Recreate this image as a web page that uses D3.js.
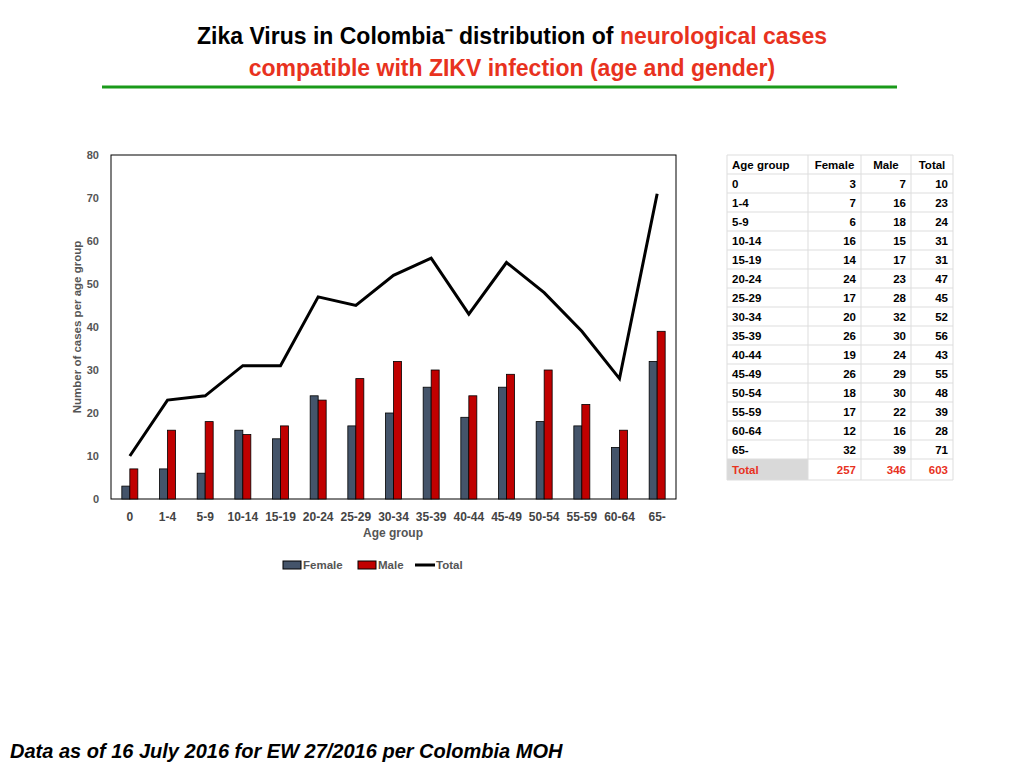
<!DOCTYPE html>
<html><head><meta charset="utf-8">
<script src="https://cdn.jsdelivr.net/npm/d3@7"></script>
<style>body{margin:0;background:#fff;font-family:"Liberation Sans",Arial,sans-serif}</style>
</head><body><svg id="c" width="1024" height="768"></svg>
<script>
var ageGroups = ["0","1-4","5-9","10-14","15-19","20-24","25-29","30-34","35-39","40-44","45-49","50-54","55-59","60-64","65-"];
var female = [3,7,6,16,14,24,17,20,26,19,26,18,17,12,32];
var male = [7,16,18,15,17,23,28,32,30,24,29,30,22,16,39];
var total = [10,23,24,31,31,47,45,52,56,43,55,48,39,28,71];
var yTicks = [0,10,20,30,40,50,60,70,80];

var svg = d3.select("#c");

// title
var t1 = svg.append("text").attr("x", 512).attr("y", 44).attr("text-anchor", "middle")
    .attr("font-size", 23).attr("font-weight", "bold");
t1.append("tspan").text("Zika Virus in Colombia\u207B  distribution of ");
t1.append("tspan").attr("fill", "#e8321e").text("neurological cases");
svg.append("text").attr("x", 512).attr("y", 76).attr("text-anchor", "middle")
    .attr("font-size", 23).attr("font-weight", "bold").attr("fill", "#e8321e")
    .text("compatible with ZIKV infection (age and gender)");
svg.append("line").attr("x1", 102).attr("x2", 897).attr("y1", 87).attr("y2", 87)
    .attr("stroke", "#1a9a1a").attr("stroke-width", 3);

// chart
var x = d3.scaleBand().domain(ageGroups).range([111, 676]);
var y = d3.scaleLinear().domain([0, 80]).range([499, 155]);
var bw = 8;

var yAx = svg.append("g").attr("transform", "translate(111,0)")
    .call(d3.axisLeft(y).tickValues(yTicks).tickSize(0).tickPadding(12));
yAx.select(".domain").remove();
yAx.selectAll("text").attr("font-size", 11).attr("font-weight", "bold").attr("fill", "#555")
    .attr("font-family", "Liberation Sans, Arial");

var xAx = svg.append("g").attr("transform", "translate(0,499)")
    .call(d3.axisBottom(x).tickSize(0).tickPadding(13));
xAx.select(".domain").remove();
xAx.selectAll("text").attr("font-size", 12).attr("font-weight", "bold").attr("fill", "#444")
    .attr("font-family", "Liberation Sans, Arial");

svg.append("rect").attr("x", 111).attr("y", 155).attr("width", 565).attr("height", 344)
    .attr("fill", "none").attr("stroke", "#000").attr("stroke-width", 1);

svg.selectAll(".f").data(female).enter().append("rect")
    .attr("x", (d, i) => x(ageGroups[i]) + x.bandwidth() / 2 - bw)
    .attr("y", d => y(d)).attr("width", bw).attr("height", d => 499 - y(d))
    .attr("fill", "#44546a").attr("stroke", "#000").attr("stroke-width", 0.8);
svg.selectAll(".m").data(male).enter().append("rect")
    .attr("x", (d, i) => x(ageGroups[i]) + x.bandwidth() / 2)
    .attr("y", d => y(d)).attr("width", bw).attr("height", d => 499 - y(d))
    .attr("fill", "#c00000").attr("stroke", "#000").attr("stroke-width", 0.8);

svg.append("path").datum(total)
    .attr("d", d3.line().x((d, i) => x(ageGroups[i]) + x.bandwidth() / 2).y(d => y(d)))
    .attr("fill", "none").attr("stroke", "#000").attr("stroke-width", 3);

svg.append("text").attr("transform", "translate(81,327) rotate(-90)").attr("text-anchor", "middle")
    .attr("font-size", 11.5).attr("font-weight", "bold").attr("fill", "#555")
    .text("Number  of cases per age group");
svg.append("text").attr("x", 393).attr("y", 537).attr("text-anchor", "middle")
    .attr("font-size", 12).attr("font-weight", "bold").attr("fill", "#555").text("Age group");

// legend
var lg = svg.append("g").attr("font-size", 11.5).attr("font-weight", "bold").attr("fill", "#555");
lg.append("rect").attr("x", 283).attr("y", 561).attr("width", 18).attr("height", 8).attr("fill", "#44546a").attr("stroke", "#000");
lg.append("text").attr("x", 303).attr("y", 569).text("Female");
lg.append("rect").attr("x", 358).attr("y", 561).attr("width", 18).attr("height", 8).attr("fill", "#c00000").attr("stroke", "#000");
lg.append("text").attr("x", 378).attr("y", 569).text("Male");
lg.append("line").attr("x1", 415).attr("x2", 435).attr("y1", 565).attr("y2", 565).attr("stroke", "#000").attr("stroke-width", 3);
lg.append("text").attr("x", 436).attr("y", 569).text("Total");

// table
var cols = [727, 808, 861, 911, 953];
var rowH = 19, tableTop = 155;
var tg = svg.append("g").attr("font-size", 11.5).attr("font-weight", "bold");
var rows = [["Age group","Female","Male","Total"]].concat(ageGroups.map((g, i) => [g, female[i], male[i], total[i]]));
rows.push(["Total", d3.sum(female), d3.sum(male), d3.sum(total)]);
var nRows = rows.length;
tg.append("rect").attr("x", cols[0]).attr("y", tableTop + rowH * (nRows - 1)).attr("width", cols[1] - cols[0]).attr("height", rowH + 2).attr("fill", "#d9d9d9");
for (var r = 0; r <= nRows; r++) {
  var yy = tableTop + rowH * r + (r === nRows ? 2 : 0);
  tg.append("line").attr("x1", cols[0]).attr("x2", cols[4]).attr("y1", yy).attr("y2", yy).attr("stroke", "#ddd");
}
cols.forEach(c => tg.append("line").attr("x1", c).attr("x2", c).attr("y1", tableTop).attr("y2", tableTop + rowH * nRows + 2).attr("stroke", "#ddd"));
rows.forEach((row, r) => {
  var isTot = r === nRows - 1;
  var ty = tableTop + rowH * r + 14 + (isTot ? 1 : 0);
  row.forEach((v, c) => {
    var hdr = r === 0;
    tg.append("text")
      .attr("x", c === 0 ? cols[0] + 5 : (hdr ? (cols[c] + cols[c + 1]) / 2 : cols[c + 1] - 5))
      .attr("y", ty)
      .attr("text-anchor", c === 0 ? "start" : (hdr ? "middle" : "end"))
      .attr("fill", isTot ? "#e8321e" : "#000")
      .text(v);
  });
});

svg.append("text").attr("x", 10).attr("y", 758).attr("font-size", 20).attr("font-weight", "bold")
    .attr("font-style", "italic").text("Data as of 16 July 2016 for EW 27/2016 per Colombia MOH");
</script></body></html>
